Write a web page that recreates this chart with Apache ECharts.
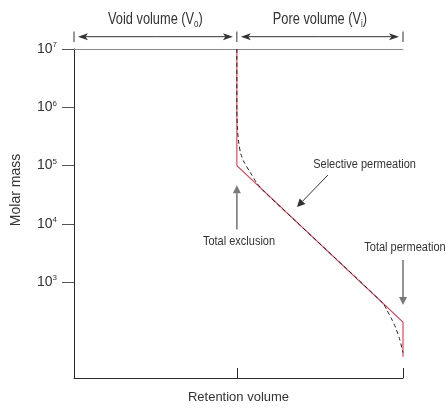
<!DOCTYPE html>
<html><head><meta charset="utf-8">
<script src="https://cdn.jsdelivr.net/npm/echarts@6/dist/echarts.min.js"></script>
<style>html,body{margin:0;padding:0;background:#fff}#c{width:446px;height:410px}</style>
</head><body><div id="c"></div>
<script>
const FONT = "'Liberation Sans Narrow','Liberation Sans',Arial,sans-serif";

// ---- data ----
const Vo = 1.0;          // void volume (retention volume units)
const Vt = 2.02;         // total volume (Vo + Vi)
const yTickValues = [1e3, 1e4, 1e5, 1e6, 1e7];
const xTickValues = [Vo, Vt];

// idealised calibration (red)
const idealVolume = [Vo, Vo, Vt, Vt];
const idealMass   = [1e7, 1e5, 207, 53];

// real calibration curve (dashed)
const realVolume = [1.0, 1.0, 1.004, 1.012, 1.024, 1.044, 1.080, 1.123, 1.172, 1.897, 1.922, 1.950, 1.975, 2.001, 2.02];
const realMass   = [1e7, 9.0e5, 4.2e5, 2.4e5, 1.6e5, 1.15e5, 7.8e4, 5.0e4, 3.5e4, 437, 330, 235, 165, 102, 62];

const headerTexts = ['Void volume (V', 'Pore volume (V'];
const headerSubs  = ['o', 'i'];

// annotations: [text, x, mass]
const annoTexts = [
  ['Selective permeation', 1.784, 1.06e5],
  ['Total exclusion', 1.013, 4.9e3],
  ['Total permeation', 2.032, 4.0e3]
];
// arrows: [fromX, fromMass, toX, toMass, color, width]
const annoArrows = [
  [1.559, 6.9e4, 1.369, 1.95e4, '#333', 1],
  [Vo, 8.0e3, Vo, 4.6e4, '#7a7a7a', 1.6],
  [Vt, 2400, Vt, 406, '#7a7a7a', 1.6]
];

const pair = (xs, ys) => xs.map((x, i) => [x, ys[i]]);

const chart = echarts.init(document.getElementById('c'), null, {renderer: 'canvas'});
const option = {
  animation: false,
  backgroundColor: '#fff',
  grid: {left: 74, right: 43, top: 49, bottom: 32, containLabel: false},
  xAxis: [{
    type: 'value', min: 0, max: Vt, position: 'bottom',
    axisLine: {show: true, lineStyle: {color: '#2b2b2b', width: 1}},
    axisTick: {show: true, inside: true, length: 10, customValues: xTickValues, lineStyle: {color: '#2b2b2b', width: 1}},
    axisLabel: {show: false},
    splitLine: {show: false},
    name: 'Retention volume', nameLocation: 'middle', nameGap: 13,
    nameTextStyle: {fontFamily: FONT, fontSize: 13, color: '#333', verticalAlign: 'top'}
  }, {
    type: 'value', min: 0, max: Vt, position: 'top',
    axisLine: {show: true, lineStyle: {color: '#8a8a8a', width: 1}},
    axisTick: {show: false}, axisLabel: {show: false}, splitLine: {show: false}
  }],
  yAxis: {
    type: 'log', logBase: 10, min: 22.8, max: 1e7,
    axisLine: {show: true, lineStyle: {color: '#2b2b2b', width: 1}},
    axisTick: {show: true, length: 12, customValues: yTickValues, lineStyle: {color: '#555', width: 1}},
    axisLabel: {
      customValues: yTickValues, margin: 17,
      formatter: v => '{b|10}{s|' + Math.round(Math.log10(v)) + '}',
      rich: {
        b: {fontFamily: FONT, fontSize: 14, lineHeight: 16, color: '#333'},
        s: {fontFamily: FONT, fontSize: 8, lineHeight: 9, verticalAlign: 'top', color: '#333'}
      }
    },
    splitLine: {show: false}
  },
  series: [{
    type: 'line', data: pair(idealVolume, idealMass), symbol: 'none', clip: false,
    lineStyle: {color: '#e8334f', width: 1.1}, z: 2
  }, {
    type: 'line', data: pair(realVolume, realMass), symbol: 'none', clip: false, smooth: 0.25,
    lineStyle: {color: '#222', width: 1, type: [4, 3]}, z: 3
  }]
};
chart.setOption(option);

const P = (x, y) => chart.convertToPixel({gridIndex: 0}, [x, y]);

function arrowEls(p1, p2, color, lw, L, W, notch) {
  const dx = p2[0] - p1[0], dy = p2[1] - p1[1];
  const len = Math.hypot(dx, dy), ux = dx / len, uy = dy / len;
  const bx = p2[0] - ux * L, by = p2[1] - uy * L;
  const nx = p2[0] - ux * L * notch, ny = p2[1] - uy * L * notch;
  return [
    {type: 'line', shape: {x1: p1[0], y1: p1[1], x2: nx, y2: ny}, style: {stroke: color, lineWidth: lw}, silent: true},
    {type: 'polygon', shape: {points: [[p2[0], p2[1]], [bx - uy * W, by + ux * W], [nx, ny], [bx + uy * W, by - ux * W]]}, style: {fill: color}, silent: true}
  ];
}

const els = [];
// header
const topY = P(0, 1e7)[1];
const hx = [P(0, 1e7)[0], P(Vo, 1e7)[0], P(Vt, 1e7)[0]];
hx.forEach(x => els.push({type: 'line', shape: {x1: x, y1: topY - 17.5, x2: x, y2: topY - 7}, style: {stroke: '#333', lineWidth: 1}, silent: true}));
const ay = topY - 12.3;
for (let i = 0; i < 2; i++) {
  const a = hx[i] + 4, b = hx[i + 1] - 4, mid = (a + b) / 2;
  els.push(...arrowEls([mid, ay], [b, ay], '#333', 1, 10, 3.5, 0.75));
  els.push(...arrowEls([mid, ay], [a, ay], '#333', 1, 10, 3.5, 0.75));
  els.push({
    type: 'text', x: (hx[i] + hx[i + 1]) / 2, y: topY - 29, scaleX: 0.8, silent: true,
    style: {
      text: '{t|' + headerTexts[i] + '}{u|' + headerSubs[i] + '}{t|)}',
      align: 'center', verticalAlign: 'middle',
      rich: {
        t: {fontFamily: FONT, fontSize: 16, lineHeight: 19, fill: '#333'},
        u: {fontFamily: FONT, fontSize: 10, lineHeight: 11, verticalAlign: 'bottom', fill: '#333'}
      }
    }
  });
}
// plot annotations
annoArrows.forEach(a => els.push(...arrowEls(P(a[0], a[1]), P(a[2], a[3]), a[4], a[5], 8, 4, 1)));
annoTexts.forEach(t => {
  const p = P(t[1], t[2]);
  els.push({type: 'text', x: p[0], y: p[1], scaleX: 0.88, silent: true,
    style: {text: t[0], align: 'center', verticalAlign: 'middle', fontFamily: FONT, fontSize: 12.5, fill: '#333'}});
});
// y axis title
els.push({type: 'text', x: 16.5, y: 190, rotation: Math.PI / 2, silent: true,
  style: {text: 'Molar mass', align: 'center', verticalAlign: 'middle', fontFamily: FONT, fontSize: 14, fill: '#333'}});

chart.setOption({graphic: {elements: els}});
</script>
</body></html>
